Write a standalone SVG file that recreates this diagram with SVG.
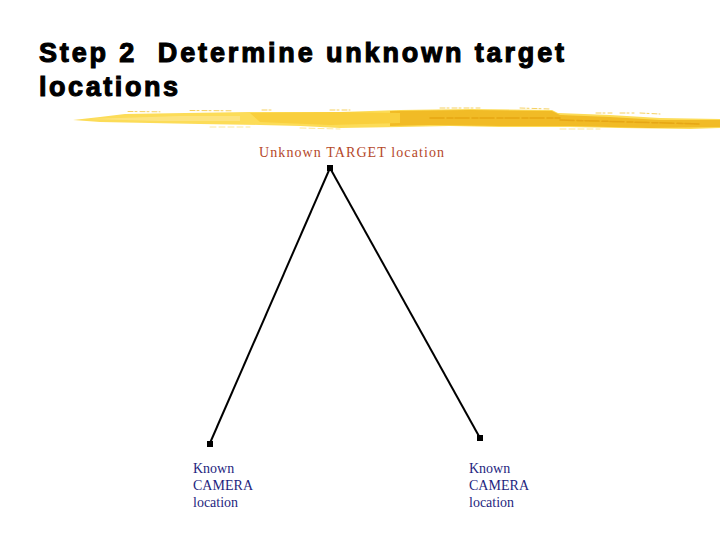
<svg xmlns="http://www.w3.org/2000/svg" width="720" height="540" viewBox="0 0 720 540">
<defs><filter id="soft" x="-2%" y="-30%" width="104%" height="160%"><feGaussianBlur stdDeviation="0.7"/></filter></defs>
<style>
.t{font-family:"Liberation Sans",Arial,sans-serif;font-weight:700;font-size:27px;fill:#000;stroke:#000;stroke-width:1.1px;white-space:pre}
.l{font-family:"Liberation Serif","Times New Roman",serif;font-size:14px}
.b{fill:#1f1f80}
.c{fill:none;stroke:#000;stroke-width:2}
.n{fill:#000}
.s{fill:none;stroke-linecap:round}
</style>
<rect width="720" height="540" fill="#fff"/>
<g id="title">
<text class="t" x="39" y="62" textLength="525" lengthAdjust="spacing" xml:space="preserve">Step 2  Determine unknown target</text>
<text class="t" x="39" y="96" textLength="139" lengthAdjust="spacing">locations</text>
</g>
<g id="brush" filter="url(#soft)">
<path d="M73 120 L100 117 L125 114 L185 113 L250 112 L300 112 L340 112 L400 110 L470 109 L552 110 L558 113 L610 115 L660 118 L720 119 L720 128 L690 129 L620 128 L570 127 L500 127 L450 126 L400 127 L340 128 L300 126 L260 125 L200 124 L150 123 L100 122 Z" fill="#fcdc58"/>
<path d="M390 111 L470 110 L552 111 L560 115 L610 117 L660 120 L720 120 L720 127 L650 128 L570 126 L500 126 L430 125 L390 126 Z" fill="#f1bb26"/>
<path d="M250 113 L340 112 L400 113 L400 123 L330 125 L260 122 Z" fill="#f9cf3c"/>
<path d="M90 119 L180 116 L240 116 L240 121 L160 121 Z" fill="#fde37e"/>
<path class="s" d="M128 111.500 L160 111.800M190 110.500 L232 110.800M262 110 L272 110M330 110 L350 110M440 108 L480 108M520 108 L550 109M596 113 L612 113M620 113 L634 113M640 113 L660 114" stroke="#f5d060" stroke-width="1" stroke-dasharray="5 2 2 3"/>
<path class="s" d="M430 118 L560 118 M560 120 L700 124" stroke="#e6a612" stroke-width="1.500" stroke-dasharray="14 3 6 2"/>
<path class="s" d="M210 127 L250 127 M300 128 L340 129 M560 129 L600 129" stroke="#fbe89a" stroke-width="1" stroke-dasharray="6 3"/>
</g>
<g id="connectors">
<path class="c" d="M330 168 L210 443"/>
<path class="c" d="M330 168 L480 438"/>
</g>
<g id="target">
<rect class="n" x="327" y="165" width="6" height="6"/>
<text class="l" x="259" y="157" fill="#b5482a" textLength="185" lengthAdjust="spacing">Unknown TARGET location</text>
</g>
<g id="camera-left">
<rect class="n" x="207" y="441" width="6" height="6"/>
<text class="l b" x="193" y="473">Known</text>
<text class="l b" x="193" y="490" textLength="60" lengthAdjust="spacing">CAMERA</text>
<text class="l b" x="193" y="507">location</text>
</g>
<g id="camera-right">
<rect class="n" x="477" y="435" width="6" height="6"/>
<text class="l b" x="469" y="473">Known</text>
<text class="l b" x="469" y="490" textLength="60" lengthAdjust="spacing">CAMERA</text>
<text class="l b" x="469" y="507">location</text>
</g>
</svg>
